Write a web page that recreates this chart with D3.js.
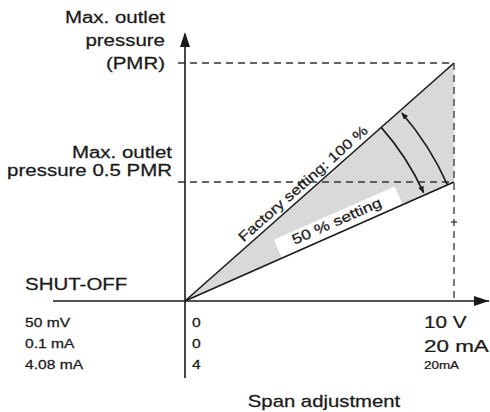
<!DOCTYPE html>
<html><head><meta charset="utf-8">
<script src="https://cdn.jsdelivr.net/npm/d3@7"></script>
<style>html,body{margin:0;padding:0;background:#fff;}svg{display:block;font-family:"Liberation Sans",Arial,Helvetica,sans-serif;}</style>
</head><body>
<script>
// ---- data ----
const spanDomain = [0, 1];          // span adjustment (0 .. full scale)
const pressureDomain = [0, 1];      // outlet pressure as fraction of PMR
const settingNames = ["Factory setting: 100 %", "50 % setting"];
const settingValues = [1, 0.5];     // max outlet pressure reached at full span
const pmrLabels = [["Max. outlet", "pressure", "(PMR)"], ["Max. outlet", "pressure 0.5 PMR"]];
const shutOffLabel = "SHUT-OFF";
const signalNames = ["50 mV", "0.1 mA", "4.08 mA"];
const signalZero = ["0", "0", "4"];
const signalFull = ["10 V", "20 mA", "20mA"];
const xTitle = "Span adjustment";

const W = 490, H = 412;
const svg = d3.select("body").append("svg").attr("width", W).attr("height", H);
const x = d3.scaleLinear().domain(spanDomain).range([185, 454]);
const y = d3.scaleLinear().domain(pressureDomain).range([301, 63]);
const ink = "#1a1a1a";
const SX = 1.28;

function label(parent, tx, ty, txt, size, anchor, sx) {
  return parent.append("text")
    .attr("transform", `translate(${tx},${ty}) scale(${sx || SX},1)`)
    .attr("text-anchor", anchor || "start").attr("font-size", size).attr("fill", ink)
    .attr("stroke", ink).attr("stroke-width", 0.25).text(txt);
}

const defs = svg.append("defs");
defs.append("marker").attr("id", "ah").attr("viewBox", "0 0 10 10").attr("refX", 9).attr("refY", 5)
  .attr("markerWidth", 9).attr("markerHeight", 7).attr("orient", "auto").attr("markerUnits", "userSpaceOnUse")
  .append("path").attr("d", "M0,1 L10,5 L0,9 Z").attr("fill", ink);

// shaded area between settings
const full = settingValues[0], half = settingValues[1];
svg.append("path")
  .attr("d", d3.line()([[x(0), y(0)], [x(1), y(full)], [x(1), y(half)]]) + "Z")
  .attr("fill", "#d9d9d9");

// origin and angles
const ox = x(0), oy = y(0);
const angFull = Math.atan2(y(0) - y(full), x(1) - x(0));
const angHalf = Math.atan2(y(0) - y(half), x(1) - x(0));
const degFull = -angFull * 180 / Math.PI, degHalf = -angHalf * 180 / Math.PI;

// white label box for 50 % setting
const g2 = svg.append("g").attr("transform", `translate(${ox},${oy}) rotate(${degHalf})`);
g2.append("rect").attr("x", 106).attr("y", -20).attr("width", 132).attr("height", 20).attr("fill", "#fff");

// dashed reference lines
const dash = "7,5";
settingValues.forEach(v => {
  svg.append("line").attr("x1", x(0) - 7).attr("x2", x(1)).attr("y1", y(v)).attr("y2", y(v))
    .attr("stroke", "#333").attr("stroke-width", 1.3).attr("stroke-dasharray", dash);
});
svg.append("line").attr("x1", x(1)).attr("x2", x(1)).attr("y1", y(full)).attr("y2", y(0))
  .attr("stroke", "#333").attr("stroke-width", 1.3).attr("stroke-dasharray", dash);
svg.append("line").attr("x1", x(1) - 3).attr("x2", x(1) + 3).attr("y1", 222).attr("y2", 222).attr("stroke", "#333").attr("stroke-width", 1.3);

// axes
svg.append("line").attr("x1", 53).attr("x2", 489).attr("y1", y(0)).attr("y2", y(0))
  .attr("stroke", ink).attr("stroke-width", 1.6);
svg.append("path").attr("d", `M489,${y(0)} L474,${y(0) - 5} L474,${y(0) + 5} Z`).attr("fill", ink);
svg.append("line").attr("x1", x(0)).attr("x2", x(0)).attr("y1", 378).attr("y2", 34)
  .attr("stroke", ink).attr("stroke-width", 1.6);
svg.append("path").attr("d", `M${x(0)},32 L${x(0) - 5},47 L${x(0) + 5},47 Z`).attr("fill", ink);

// setting lines
settingValues.forEach(v => {
  svg.append("line").attr("x1", x(0)).attr("y1", y(0)).attr("x2", x(1)).attr("y2", y(v))
    .attr("stroke", ink).attr("stroke-width", 1.6);
});

// arcs (centred on origin)
function arcPath(r, a0, a1) {
  const p0 = [ox + r * Math.cos(a0), oy - r * Math.sin(a0)];
  const p1 = [ox + r * Math.cos(a1), oy - r * Math.sin(a1)];
  const sweep = a1 < a0 ? 1 : 0;
  return `M${p0[0]},${p0[1]} A${r},${r} 0 0 ${sweep} ${p1[0]},${p1[1]}`;
}
svg.append("path").attr("d", arcPath(262, angFull, angHalf + 0.01))
  .attr("fill", "none").attr("stroke", ink).attr("stroke-width", 1.6).attr("marker-end", "url(#ah)");
svg.append("path").attr("d", arcPath(287, angHalf, angFull - 0.01))
  .attr("fill", "none").attr("stroke", ink).attr("stroke-width", 1.6).attr("marker-end", "url(#ah)");

// rotated labels
const g1 = svg.append("g").attr("transform", `translate(${ox},${oy}) rotate(${degFull})`);
label(g1, 166, -5, settingNames[0], 14, "middle", 1.2);
label(g2, 171, -7, settingNames[1], 14, "middle", 1.25);

// y labels
pmrLabels[0].forEach((t, i) => label(svg, 165, 22.5 + i * 23, t, 16, "end"));
pmrLabels[1].forEach((t, i) => label(svg, 172, 158 + i * 18, t, 16, "end"));
label(svg, 25, 290, shutOffLabel, 16, "start");

// signal rows
const rowY = [327, 348, 369];
signalNames.forEach((t, i) => {
  label(svg, 25, rowY[i], t, 12, "start", 1.3);
  label(svg, 192, rowY[i], signalZero[i], 12, "start", 1.3);
});
const fullSizes = [17, 17, 11];
const fullScale = [1.22, 1.32, 1.22];
const fullY = [328, 352, 369];
signalFull.forEach((t, i) => label(svg, 424, fullY[i], t, fullSizes[i], "start", fullScale[i]));

label(svg, 324, 407, xTitle, 16, "middle", 1.27);
</script>
</body></html>
